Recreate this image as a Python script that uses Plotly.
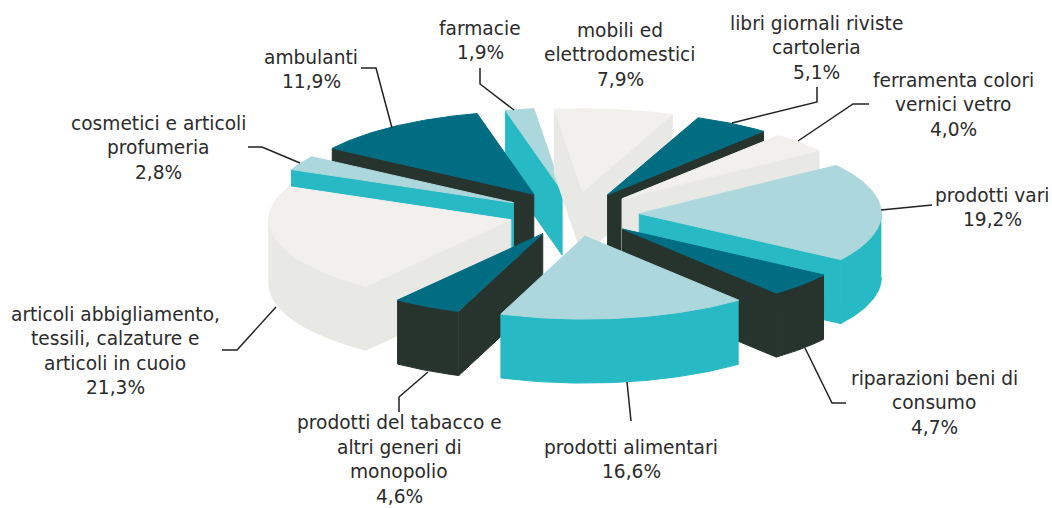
import numpy as np
import plotly.graph_objects as go

# --- data -------------------------------------------------------------
categories = ["mobili ed elettrodomestici", "libri giornali riviste cartoleria",
              "ferramenta colori vernici vetro", "prodotti vari", "riparazioni beni di consumo",
              "prodotti alimentari", "prodotti del tabacco e altri generi di monopolio",
              "articoli abbigliamento, tessili, calzature e articoli in cuoio",
              "cosmetici e articoli profumeria", "ambulanti", "farmacie"]
values = [7.9, 5.1, 4.0, 19.2, 4.7, 16.6, 4.6, 21.3, 2.8, 11.9, 1.9]
value_labels = ["7,9%", "5,1%", "4,0%", "19,2%", "4,7%", "16,6%", "4,6%", "21,3%", "2,8%", "11,9%", "1,9%"]
label_lines = [["mobili ed", "elettrodomestici"], ["libri giornali riviste", "cartoleria"],
               ["ferramenta colori", "vernici vetro"], ["prodotti vari"], ["riparazioni beni di", "consumo"],
               ["prodotti alimentari"], ["prodotti del tabacco e", "altri generi di", "monopolio"],
               ["articoli abbigliamento,", "tessili, calzature e", "articoli in cuoio"],
               ["cosmetici e articoli", "profumeria"], ["ambulanti"], ["farmacie"]]

# --- style / layout ---------------------------------------------------
palettes = {"grey": ("#f1f0ed", "#e8e8e5"), "dark": ("#006d82", "#27342d"), "blue": ("#acd8dd", "#27bac4")}
slice_palette = ["grey", "dark", "grey", "blue", "dark", "blue", "dark", "grey", "blue", "dark", "blue"]
explode = [0.27, 0.27, 0.27, 0.27, 0.27, 0.27, 0.27, 0.27, 0.285, 0.29, 0.28]
label_anchor = [(620, 30), (816, 23), (953, 80), (992, 195), (934, 378), (631, 447),
                (399, 422.5), (115, 314), (158, 123), (311, 57), (480, 28)]
leaders = ["M817,87 L817,102 L732,123", "M869,104 L853,104 L798,141", "M932,205 L881,210",
           "M805,348 L832,403 L846,403", "M627,382 L631,421", "M428,372 L399,397 L399,412",
           "M276,307 L237,350 L222,350", "M300,163 L262,147 L248,147", "M392,128 L376,68 L361,68",
           "M480,68 L480,84 L514,110"]
CX, CY, RX, RY, DEPTH, START = 574, 214, 242, 83, 64, -6.7
LINE_H, FONT = 24.5, 18.6


def proj(deg, r, ox, oy):
    t = np.radians(deg)
    return ox + RX * r * np.sin(t), oy - RY * r * np.cos(t)


def poly(fig, xs, ys, color):
    fig.add_trace(go.Scatter(x=list(xs), y=list(ys), mode="lines", fill="toself", fillcolor=color,
                             line=dict(width=1, color=color), hoverinfo="skip", showlegend=False))


bounds = START + np.concatenate([[0], np.cumsum(values)]) * 3.6 * 100 / sum(values)
slices = []
for i in range(len(values)):
    a0, a1 = bounds[i], bounds[i + 1]
    ox, oy = proj((a0 + a1) / 2, explode[i], CX, CY)
    slices.append((oy, i, a0, a1, ox))

fig = go.Figure()
for oy, i, a0, a1, ox in sorted(slices):  # painter's order, back to front
    top, side = palettes[slice_palette[i]]
    # radial side walls (only those turned toward the viewer)
    if -np.cos(np.radians(a0 - 90)) > 0:
        ex, ey = proj(a0, 1, ox, oy)
        poly(fig, [ox, ex, ex, ox, ox], [oy, ey, ey + DEPTH, oy + DEPTH, oy], side)
    if -np.cos(np.radians(a1 + 90)) > 0:
        ex, ey = proj(a1, 1, ox, oy)
        poly(fig, [ox, ex, ex, ox, ox], [oy, ey, ey + DEPTH, oy + DEPTH, oy], side)
    # outer rim (front part of the arc)
    r0, r1 = max(a0, 90), min(a1, 270)
    if r1 > r0:
        th = np.linspace(r0, r1, 60)
        ux, uy = proj(th, 1, ox, oy)
        poly(fig, np.r_[ux, ux[::-1]], np.r_[uy, uy[::-1] + DEPTH], side)
    # top face
    th = np.linspace(a0, a1, 80)
    ux, uy = proj(th, 1, ox, oy)
    poly(fig, np.r_[ox, ux, ox], np.r_[oy, uy, oy], top)

annotations = []
for lines, val, (ax, ay) in zip(label_lines, value_labels, label_anchor):
    for k, line in enumerate(lines + [val]):
        annotations.append(dict(x=ax, y=ay + k * LINE_H, text=line, xref="x", yref="y", showarrow=False,
                                xanchor="center", yanchor="middle",
                                font=dict(family="DejaVu Sans", size=FONT, color="#2b2b2b")))

shapes = [dict(type="path", path=p, xref="x", yref="y", line=dict(color="#222222", width=1.5)) for p in leaders]

fig.update_layout(width=1052, height=508, margin=dict(l=0, r=0, t=0, b=0),
                  paper_bgcolor="white", plot_bgcolor="white",
                  xaxis=dict(range=[0, 1052], visible=False, fixedrange=True),
                  yaxis=dict(range=[508, 0], visible=False, fixedrange=True),
                  annotations=annotations, shapes=shapes, showlegend=False)
fig.write_html("out.html", post_script="document.body.style.margin='0';document.body.style.overflow='hidden';",
               config={"displayModeBar": False})
